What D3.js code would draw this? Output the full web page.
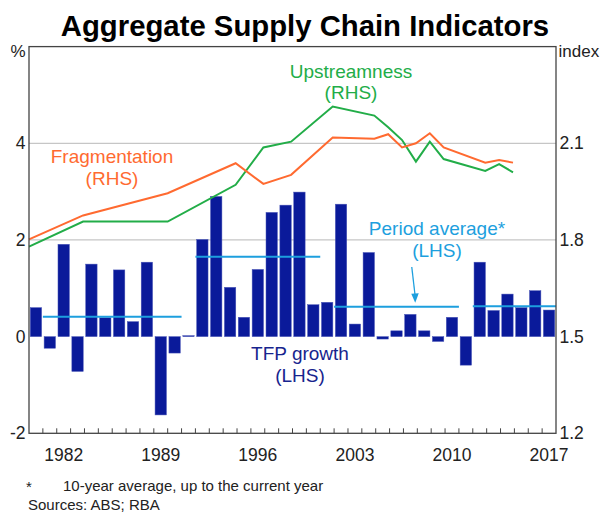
<!DOCTYPE html>
<html>
<head>
<meta charset="utf-8">
<script src="https://cdn.jsdelivr.net/npm/d3@7"></script>
<style>
  body { margin: 0; background: white; }
  svg { display: block; font-family: "Liberation Sans", Arial, sans-serif; }
</style>
</head>
<body>
<svg id="chart" width="605" height="515"></svg>
<script>
//
// Data
//

// TFP growth, % (LHS), one bar per year
var years = d3.range(1980, 2018)
var tfpGrowth = [
  0.60, -0.24, 1.91, -0.72, 1.50, 0.39, 1.38, 0.31, 1.54, -1.62,
  -0.34, 0.02, 2.01, 2.90, 1.02, 0.40, 1.39, 2.57, 2.72, 2.99,
  0.66, 0.71, 2.74, 0.26, 1.74, -0.05, 0.12, 0.46, 0.12, -0.10,
  0.40, -0.59, 1.54, 0.54, 0.88, 0.60, 0.95, 0.55
]

// period average (10-year average), % (LHS)
var avgFrom = [1981, 1992, 2002, 2012]
var avgTo = [1990, 2000, 2010, 2017]
var avgValues = [0.41, 1.65, 0.62, 0.63]

// supply chain indices (RHS)
var lineDates = [1979.5, 1983.4, 1989.5, 1994.4, 1996.4, 1998.4, 2001.4, 2004.4,
  2005.4, 2006.4, 2007.4, 2008.4, 2009.4, 2012.4, 2013.4, 2014.4]
var fragmentation = [1.802, 1.876, 1.945, 2.038, 1.974, 2.002, 2.118, 2.114,
  2.128, 2.087, 2.100, 2.131, 2.087, 2.040, 2.048, 2.040]
var upstreamness = [1.779, 1.857, 1.857, 1.971, 2.087, 2.105, 2.214, 2.186,
  2.150, 2.110, 2.043, 2.105, 2.051, 2.014, 2.035, 2.010]

// tick labels
var yearLabels = [1982, 1989, 1996, 2003, 2010, 2017]
var leftTicks = [-2, 0, 2, 4]
var rightTicks = [1.2, 1.5, 1.8, 2.1]
var gridTicks = [2, 4]

// colours
var colorBar = '#0a1a9a'
var colorAvg = '#1d9fde'
var colorFrag = '#ff6a30'
var colorUp = '#22ad48'
var colorFrame = '#444'

//
// Scales
//

var plotLeft = 29, plotRight = 556, plotTop = 46.6, plotBottom = 433.3

var svg = d3.select('#chart')
var xBand = d3.scaleBand().domain(years).range([plotLeft, plotRight]).paddingInner(0.18).paddingOuter(0.09)
var x = d3.scaleLinear().domain([1979.5, 2017.5]).range([plotLeft, plotRight])
var yL = d3.scaleLinear().domain([-2, 6]).range([plotBottom, plotTop])
var yR = d3.scaleLinear().domain([1.2, 2.4]).range([plotBottom, plotTop])

//
// Title
//

svg.append('text')
  .attr('x', 305).attr('y', 36)
  .attr('text-anchor', 'middle')
  .style('font-size', '29.3px').style('font-weight', 'bold')
  .text('Aggregate Supply Chain Indicators')

//
// Grid
//

svg.selectAll('.grid').data(gridTicks).enter().append('line')
  .attr('x1', plotLeft).attr('x2', plotRight)
  .attr('y1', d => yL(d)).attr('y2', d => yL(d))
  .attr('stroke', '#c6c6c6').attr('stroke-width', 1.2)

//
// Bars
//

svg.selectAll('.bar').data(tfpGrowth).enter().append('rect')
  .attr('x', (d, i) => xBand(years[i]))
  .attr('width', xBand.bandwidth())
  .attr('y', d => yL(Math.max(0, d)))
  .attr('height', d => Math.abs(yL(d) - yL(0)))
  .attr('fill', colorBar)
  .attr('stroke', '#4a56b8').attr('stroke-width', 0.5)

//
// Period averages
//

svg.selectAll('.avg').data(avgValues).enter().append('line')
  .attr('x1', (d, i) => x(avgFrom[i] - 0.5))
  .attr('x2', (d, i) => x(avgTo[i] + 0.5))
  .attr('y1', d => yL(d)).attr('y2', d => yL(d))
  .attr('stroke', colorAvg).attr('stroke-width', 2)

//
// Lines
//

var line = d3.line()
  .x((d, i) => x(lineDates[i]))
  .y(d => yR(d))

svg.append('path').datum(upstreamness)
  .attr('d', line).attr('fill', 'none')
  .attr('stroke', colorUp).attr('stroke-width', 2)

svg.append('path').datum(fragmentation)
  .attr('d', line).attr('fill', 'none')
  .attr('stroke', colorFrag).attr('stroke-width', 2)

//
// Frame and axes
//

svg.append('rect')
  .attr('x', plotLeft).attr('y', plotTop)
  .attr('width', plotRight - plotLeft).attr('height', plotBottom - plotTop)
  .attr('fill', 'none').attr('stroke', colorFrame).attr('stroke-width', 1.3)

svg.selectAll('.xtick').data(years.slice(1)).enter().append('line')
  .attr('x1', d => x(d - 0.5)).attr('x2', d => x(d - 0.5))
  .attr('y1', plotBottom).attr('y2', plotBottom - 5)
  .attr('stroke', colorFrame).attr('stroke-width', 1)

svg.selectAll('.xlabel').data(yearLabels).enter().append('text')
  .attr('x', d => x(d)).attr('y', 461)
  .attr('text-anchor', 'middle')
  .style('font-size', '17.5px').attr('fill', '#222')
  .text(d => d)

svg.selectAll('.ylabel').data(leftTicks).enter().append('text')
  .attr('x', 25.5).attr('y', d => yL(d) + 6)
  .attr('text-anchor', 'end')
  .style('font-size', '17.5px').attr('fill', '#222')
  .text(d => d)

svg.selectAll('.rlabel').data(rightTicks).enter().append('text')
  .attr('x', 559.5).attr('y', d => yR(d) + 6)
  .style('font-size', '17.5px').attr('fill', '#222')
  .text(d => d3.format('.1f')(d))

svg.append('text')
  .attr('x', 25.5).attr('y', plotTop + 10)
  .attr('text-anchor', 'end')
  .style('font-size', '17px').attr('fill', '#222')
  .text('%')

svg.append('text')
  .attr('x', 558.5).attr('y', plotTop + 10)
  .style('font-size', '17px').attr('fill', '#222')
  .text('index')

//
// Annotations
//

function label(lines, cx, y0, color) {
  lines.forEach(function (t, i) {
    svg.append('text')
      .attr('x', cx).attr('y', y0 + i * 21.5)
      .attr('text-anchor', 'middle')
      .style('font-size', '19px').attr('fill', color)
      .text(t)
  })
}

label(['Upstreamness', '(RHS)'], 351, 77.5, colorUp)
label(['Fragmentation', '(RHS)'], 112, 163, colorFrag)
label(['TFP growth', '(LHS)'], 300, 360, '#17248e')
label(['Period average*', '(LHS)'], 437, 235, colorAvg)

// arrow to the period average line
var ax0 = x(2007.1), ay0 = 267, ax1 = x(2007.35), ay1 = yL(0.7)
svg.append('line')
  .attr('x1', ax0).attr('y1', ay0).attr('x2', ax1).attr('y2', ay1 - 6)
  .attr('stroke', colorAvg).attr('stroke-width', 1.3)
svg.append('path')
  .attr('d', d3.line()([[ax1 - 4, ay1 - 9], [ax1 + 3.5, ay1 - 9.5], [ax1, ay1]]))
  .attr('fill', colorAvg)

//
// Footnotes
//

svg.append('text')
  .attr('x', 26).attr('y', 492)
  .style('font-size', '15px').attr('fill', '#222')
  .text('*')

svg.append('text')
  .attr('x', 63).attr('y', 491)
  .style('font-size', '15px').attr('fill', '#222')
  .text('10-year average, up to the current year')

svg.append('text')
  .attr('x', 28).attr('y', 510)
  .style('font-size', '15px').attr('fill', '#222')
  .text('Sources: ABS; RBA')
</script>
</body>
</html>
